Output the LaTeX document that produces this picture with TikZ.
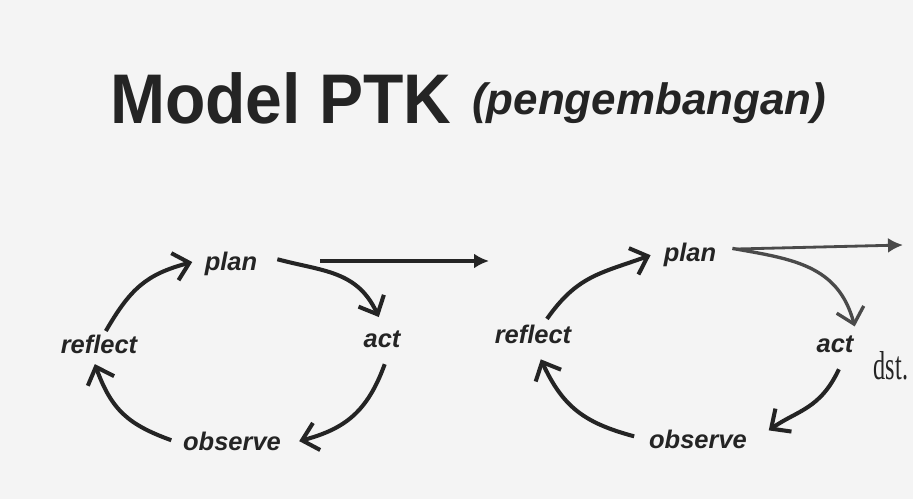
\documentclass[tikz,border=0pt]{standalone}
\usepackage{fontspec}
\setmainfont{Liberation Serif}
\setsansfont{Liberation Sans}
\usetikzlibrary{arrows.meta}

\definecolor{ink}{HTML}{242424}
\definecolor{inkgrey}{HTML}{4A4A4A}
\definecolor{paper}{HTML}{F4F4F4}

\tikzstyle{stage} = [font=\sffamily\bfseries\itshape\fontsize{14.5}{14.5}\selectfont, text=ink, inner sep=2pt, text height=1.5ex, text depth=.25ex]
\tikzstyle{turn} = [line width=2.3pt, draw=ink, looseness=1.15, -{Straight Barb[length=3mm, width=5.6mm]}]
\tikzstyle{arrow} = [line width=2pt, draw=ink, -{Latex[length=3mm, width=3mm]}]

\begin{document}
\begin{tikzpicture}[x=0.02cm, y=0.02cm]

\useasboundingbox[fill=paper] (0,0) rectangle (913,-499);

%% NODES

\node (title) [anchor=base west, text=ink, font=\sffamily\bfseries\fontsize{40}{40}\selectfont] at (104,-124) {\scalebox{0.94}[1]{Model PTK}};
\node (subtitle) [anchor=base west, text=ink, font=\sffamily\bfseries\itshape\fontsize{25}{25}\selectfont] at (466,-115) {(pengembangan)};

\node (plan1) [stage] at (231,-265) {plan};
\node (act1) [stage] at (382,-342) {act};
\node (obs1) [stage] at (232,-445) {observe};
\node (refl1) [stage] at (99,-348) {reflect};
\coordinate (fork1) at (320,-261);
\coordinate (next1) at (489,-261);

\node (plan2) [stage] at (690,-256) {plan};
\node (act2) [stage] at (835,-347) {act};
\node (obs2) [stage] at (698,-443) {observe};
\node (refl2) [stage] at (533,-338) {reflect};
\node (dst_label) [text=ink] at (891,-366) {\scalebox{0.6}[1]{\fontsize{23}{23}\selectfont dst.}};
\coordinate (fork2) at (737,-249);
\coordinate (next2) at (903,-245);

%% ARROWS

\draw [turn, shorten <=0.14cm, shorten >=0.18cm] (refl1.73) to[out=60, in=195] (plan1.170);
\draw [turn, shorten <=0.4cm, shorten >=0.31cm] (plan1.22) to[out=-15, in=115] (act1.73);
\draw [turn, shorten <=0.24cm, shorten >=0.3cm] (act1.-58) to[out=-110, in=15] (obs1.east);
\draw [turn, shorten <=0.17cm, shorten >=0.11cm] (obs1.178) to[out=160, in=-70] (refl1.-119);
\draw [arrow] (fork1) -- (next1);

\draw [turn, shorten <=0.2cm, shorten >=0.2cm] (refl2.53) to[out=55, in=200] (plan2.172);
\draw [turn, draw=inkgrey, line width=1.9pt, shorten <=0.25cm, shorten >=0.2cm] (plan2.18) to[out=-10, in=105] (act2.north east);
\draw [turn, shorten <=0.25cm, shorten >=0.44cm] (act2.-50) to[out=-115, in=35] (obs2.east);
\draw [turn, shorten <=0.23cm, shorten >=0.23cm] (obs2.176) to[out=165, in=-65] (refl2.-75);
\draw [arrow, draw=inkgrey, line width=1.6pt] (fork2) -- (next2);

\end{tikzpicture}
\end{document}
